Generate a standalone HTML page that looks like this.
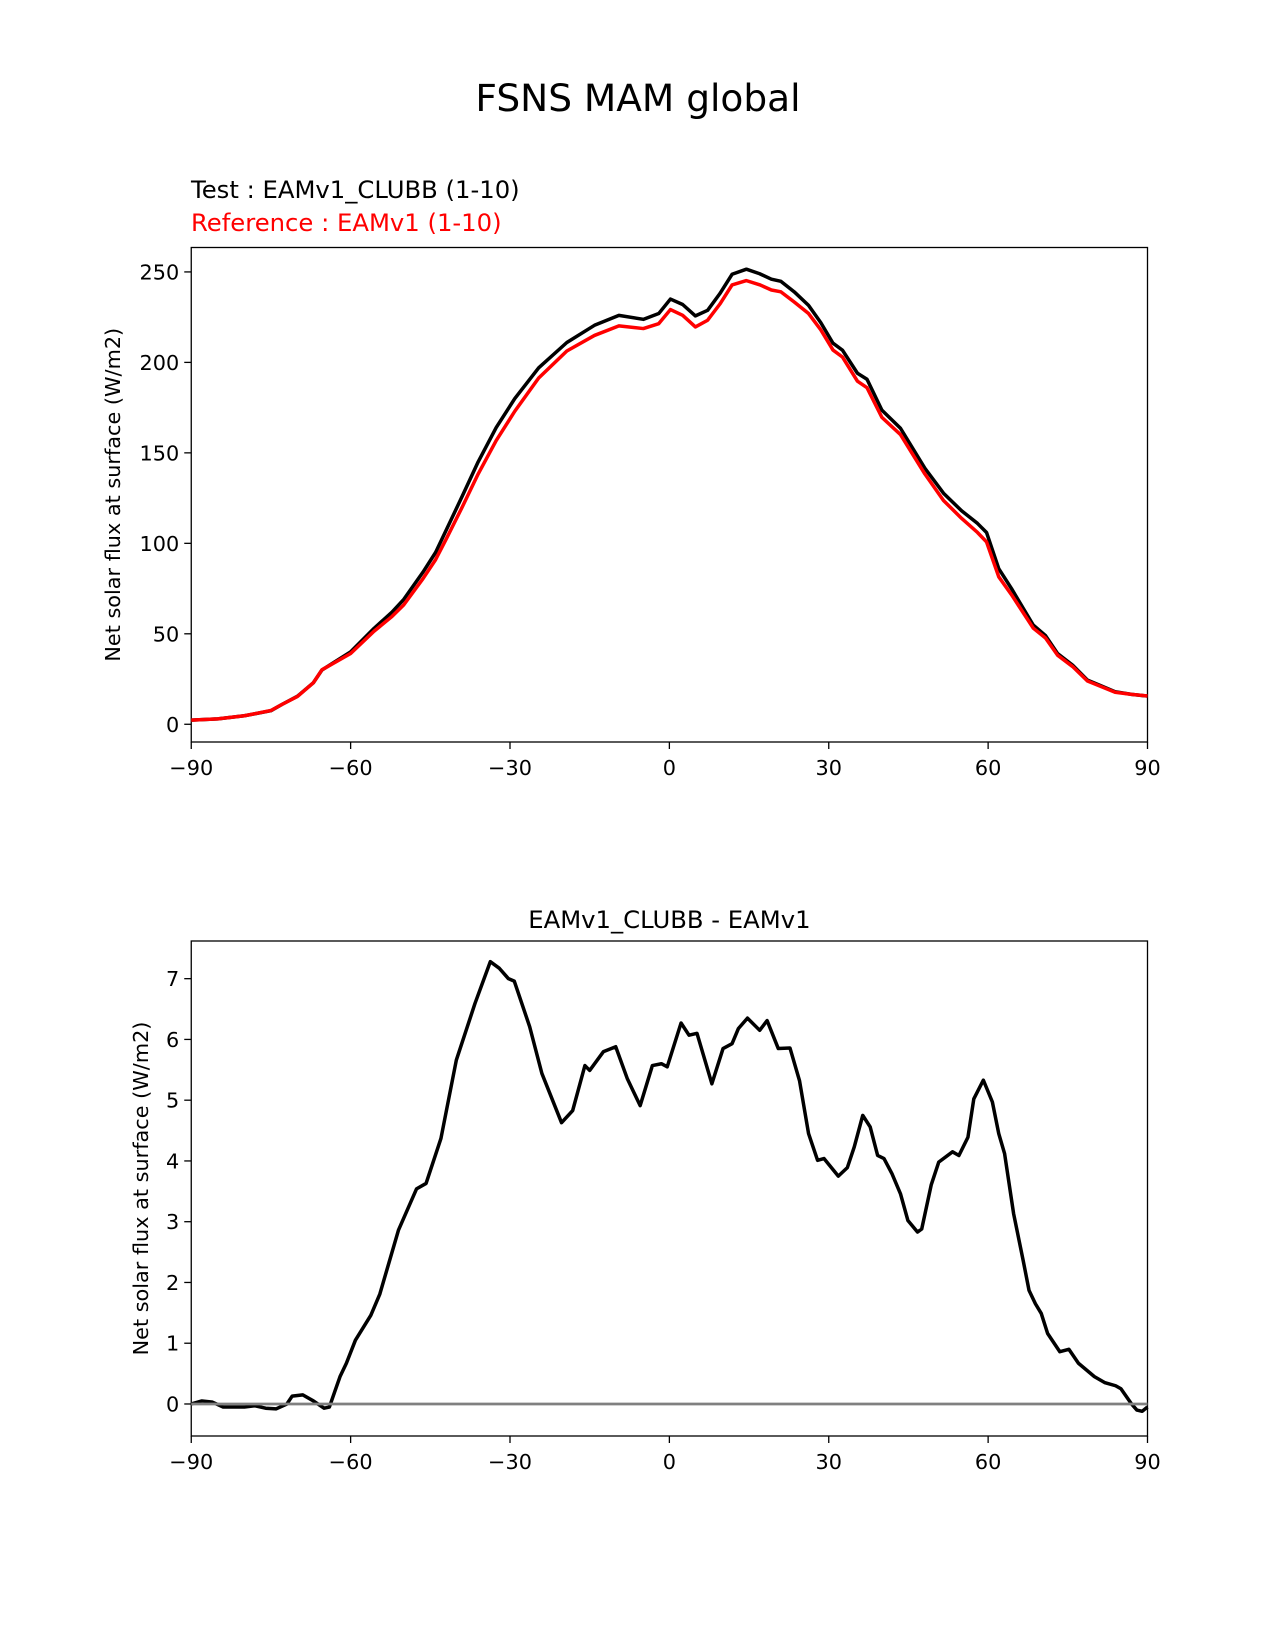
<!DOCTYPE html>
<html><head><meta charset="utf-8"><style>
html,body{margin:0;padding:0;background:#fff;}
svg{display:block;font-family:"DejaVu Sans","Liberation Sans",sans-serif;}
</style></head><body>
<svg id="fig" width="1275" height="1650" viewBox="0 0 1275 1650" xmlns="http://www.w3.org/2000/svg">
<rect width="1275" height="1650" fill="#fff"/>
<text x="638" y="111" font-size="37.5" text-anchor="middle">FSNS MAM global</text>
<text x="191" y="198" font-size="24.3">Test : EAMv1_CLUBB (1-10)</text>
<text x="191" y="231" font-size="24.3" fill="#ff0000">Reference : EAMv1 (1-10)</text>
<text x="669.4" y="928" font-size="24.3" text-anchor="middle">EAMv1_CLUBB - EAMv1</text>
<g id="top"></g>
<g id="bot"></g>
</svg>
<script>
const NS="http://www.w3.org/2000/svg";
const xTicks=[-90,-60,-30,0,30,60,90];
const xTickLabels=["\u221290","\u221260","\u221230","0","30","60","90"];
const topYTicks=[0,50,100,150,200,250];
const botYTicks=[0,1,2,3,4,5,6,7];
const topLats=[-90,-85,-80,-75,-72.9,-70,-67,-65.4,-60,-55.6,-52.2,-50,-46.4,-44,-41.9,-39,-36,-32.6,-29.1,-24.6,-19.3,-14.1,-9.5,-4.9,-2,0.2,2.5,4.9,7.2,9.5,11.8,14.5,17,19.2,21,23.5,26.2,28.5,30.8,32.6,35.4,37.2,40,43.5,48.1,51.6,55,58,59.7,62,64.4,68.5,70.8,73.1,75.9,78.7,80.9,83.9,87,90];
const testVals=[2.3,3,4.7,7.5,11,15.5,23,30,40,53,62,69,84,95,108,126,145,164,180,197,211,220.5,226,223.8,227,235,232,225.7,228.8,238,248.7,251.5,249,246,244.8,239,231.5,222,210.6,206.7,194,190.7,173.6,163.6,141.5,127.7,118,111,106,86,75,54.8,49,39,32.7,24.4,21.7,18,16.5,15.6];
const refVals=[2.3,3,4.7,7.6,11,15.4,23,30.1,39.1,51.4,59.6,66,80.4,91,103,120,138.3,156.8,173,191.4,206.3,214.9,220.2,218.7,221.4,229.2,226,219.6,223.3,232.2,242.8,245.2,242.9,240,239,233.4,227,218,206.8,202.9,189.6,186,169.6,160.1,138.3,123.7,113.8,106,100.8,81.5,71.6,53.1,47.7,38.1,31.9,23.9,21.3,17.7,16.5,15.65];
const diffLats=[-90,-88,-86,-84,-80,-78,-76,-74,-72,-71,-69,-67,-65,-64,-63,-62,-60.8,-59.1,-56.2,-54.5,-51,-47.6,-45.8,-43,-40.1,-36.6,-33.7,-32,-30.3,-29.2,-26.3,-24,-20.3,-18.2,-15.9,-15,-12.4,-10.1,-7.9,-5.5,-3.2,-1.5,-0.4,2.2,3.7,5.2,8,10.1,11.8,13,14.7,17,18.4,20.5,22.7,24.5,26.2,27.9,29.1,31.8,33.5,34.8,36.4,37.8,39.2,40.4,41.9,43.5,44.9,46.7,47.5,49.3,50.7,53.3,54.5,56.2,57.3,59.1,60.8,62,63.1,64.8,66.6,67.7,68.9,70,71.2,73.5,75.2,77,80,82,84,85,87,88,89,90];
const diffVals=[0,0.05,0.03,-0.05,-0.05,-0.03,-0.07,-0.08,0,0.13,0.15,0.05,-0.07,-0.05,0.2,0.45,0.67,1.05,1.46,1.81,2.86,3.54,3.63,4.37,5.66,6.59,7.28,7.17,7.0,6.96,6.21,5.44,4.63,4.83,5.57,5.49,5.8,5.88,5.35,4.91,5.57,5.6,5.55,6.27,6.07,6.1,5.27,5.85,5.93,6.18,6.35,6.15,6.31,5.85,5.86,5.32,4.45,4.01,4.04,3.75,3.89,4.23,4.75,4.56,4.09,4.04,3.79,3.46,3.02,2.83,2.88,3.61,3.98,4.15,4.09,4.39,5.02,5.33,4.97,4.45,4.12,3.13,2.36,1.87,1.65,1.49,1.16,0.86,0.9,0.67,0.45,0.35,0.3,0.25,0,-0.1,-0.12,-0.05];

const L=191.25,R=1147.5;
const xs=v=>L+(v+90)/180*(R-L);
function el(tag,attrs,parent){const e=document.createElementNS(NS,tag);for(const k in attrs)e.setAttribute(k,attrs[k]);parent.appendChild(e);return e;}

function axes(g,top,bottom,ymin,ymax,yTicks,ylabel,ylabelX){
  const ys=v=>bottom-(v-ymin)/(ymax-ymin)*(bottom-top);
  const fr=el('rect',{x:L,y:top,width:R-L,height:bottom-top,fill:'none',stroke:'#000','stroke-width':1.3},g);
  
  
  xTicks.forEach((t,i)=>{
    const tk=el('line',{x1:xs(t),x2:xs(t),y1:bottom,y2:bottom+7,stroke:'#000','stroke-width':1.3},g);
    
    
    const tx=el('text',{x:xs(t),y:bottom+33,'font-size':20.8,'text-anchor':'middle'},g);
    tx.textContent=xTickLabels[i];
    
    
  });
  yTicks.forEach(t=>{
    const tk=el('line',{x1:L-7,x2:L,y1:ys(t),y2:ys(t),stroke:'#000','stroke-width':1.3},g);
    
    
    const tx=el('text',{x:L-12,y:ys(t)+7.5,'font-size':20.8,'text-anchor':'end'},g);
    tx.textContent=String(t);
    
    
  });
  const cy=(top+bottom)/2;
  const yl=el('text',{x:ylabelX,y:cy,'font-size':20.8,'text-anchor':'middle',transform:`rotate(-90 ${ylabelX} ${cy})`},g);
  yl.textContent=ylabel;
  
  
  return ys;
}
function line(g,lats,vals,ys,color,w,name){
  const d=lats.map((la,i)=>(i?'L':'M')+xs(la).toFixed(2)+','+ys(vals[i]).toFixed(2)).join('');
  const p=el('path',{d:d,fill:'none',stroke:color,'stroke-width':w,'stroke-linejoin':'round'},g);
  
  
}
const gt=document.getElementById('top');
const ysT=axes(gt,247.5,742,-9.8,263.5,topYTicks,'Net solar flux at surface (W/m2)',120);
line(gt,topLats,testVals,ysT,'#000',3.5,'test-line');
line(gt,topLats,refVals,ysT,'#ff0000',3.5,'reference-line');
const gb=document.getElementById('bot');
const ysB=axes(gb,941,1436,-0.527,7.62,botYTicks,'Net solar flux at surface (W/m2)',148);
line(gb,diffLats,diffVals,ysB,'#000',3.5,'difference-line');
const z=el('line',{x1:L,x2:R,y1:ysB(0),y2:ysB(0),stroke:'#808080','stroke-width':2.7},gb);


</script>
</body></html>
